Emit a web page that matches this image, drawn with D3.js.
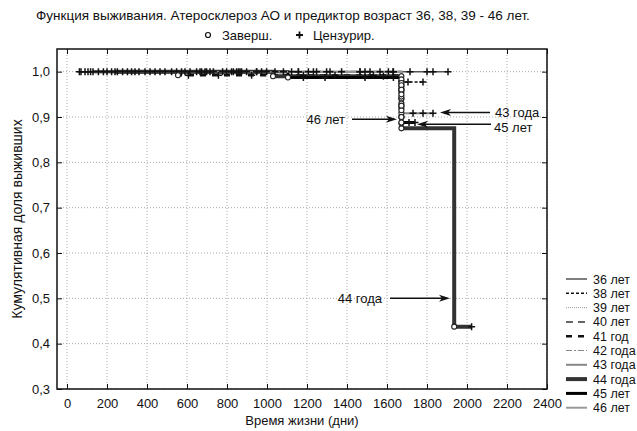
<!DOCTYPE html>
<html>
<head>
<meta charset="utf-8">
<script src="https://cdn.jsdelivr.net/npm/d3@7"></script>
<style>
  body { margin: 0; background: #fff; }
  text { font-family: "Liberation Sans", Arial, sans-serif; fill: #111; }
</style>
</head>
<body>
<div id="chart"></div>
<script>
const w = 637,
    h = 431

// age groups (legend order)
const ages = ['36 лет', '38 лет', '39 лет', '40 лет', '41 год', '42 года', '43 года', '44 года', '45 лет', '46 лет']

// completed observations: [day, cumulative survival after the event]
const events = [
    [],
    [[1672, 0.977]],
    [],
    [[1672, 0.99], [1672, 0.98], [1672, 0.97], [1672, 0.96]],
    [[555, 0.992], [1672, 0.983], [1672, 0.975], [1672, 0.966]],
    [],
    [[1672, 0.97], [1672, 0.955], [1672, 0.94], [1672, 0.925], [1672, 0.908]],
    [[1030, 0.99], [1672, 0.96], [1672, 0.94], [1672, 0.92], [1672, 0.9], [1672, 0.886], [1672, 0.875], [1936, 0.4375]],
    [[1105, 0.987], [1672, 0.96], [1672, 0.945], [1672, 0.93], [1672, 0.915], [1672, 0.9], [1672, 0.888]],
    [[1672, 0.95], [1672, 0.925], [1672, 0.9]]
]

// censored observations: days
const censored = [
    [62, 182, 302, 440, 573, 715, 857, 998, 1157, 1315, 1465, 1715, 1800, 1830, 1905],
    [90, 223, 340, 490, 648, 798, 948, 1082, 1248, 1515, 1705, 1780],
    [118, 252, 360, 523, 665, 823, 973, 1123, 1373, 1565],
    [157, 278, 390, 548, 690, 848, 1040, 1207, 1607],
    [323, 465, 607, 757, 923, 1182, 1340, 1532],
    [70, 200, 415, 590, 732, 873, 1298, 1490],
    [778, 898, 1232, 1465, 1630, 1730, 1780, 1830],
    [240, 615, 948, 1582, 2023],
    [130, 673, 832, 1182, 1290, 1490, 1632, 1710, 1740],
    [105, 698, 865, 1157, 1632]
]

const xTicks = [0, 200, 400, 600, 800, 1000, 1200, 1400, 1600, 1800, 2000, 2200, 2400]
const yTicks = [0.3, 0.4, 0.5, 0.6, 0.7, 0.8, 0.9, 1.0]

// line styles per group
const styles = [
    { stroke: '#555', width: 1.5, dash: null },
    { stroke: '#111', width: 1.5, dash: '3,2' },
    { stroke: '#999', width: 1, dash: '1,1' },
    { stroke: '#666', width: 2, dash: '7,5' },
    { stroke: '#111', width: 2.5, dash: '6,6' },
    { stroke: '#888', width: 1, dash: '6,2,2,2' },
    { stroke: '#888', width: 2, dash: null },
    { stroke: '#333', width: 4, dash: null },
    { stroke: '#000', width: 3, dash: null },
    { stroke: '#999', width: 2, dash: null }
]

const pLeft = 57, pRight = 547, pTop = 49, pBottom = 389

let x = d3.scaleLinear().domain([-50, 2400]).range([pLeft, pRight])
let y = d3.scaleLinear().domain([0.3, 1.05]).range([pBottom, pTop])

let svg = d3.select('#chart')
    .append('svg')
    .attr('width', w)
    .attr('height', h)

// titles
svg.append('text')
    .attr('x', 283).attr('y', 20)
    .attr('text-anchor', 'middle')
    .attr('font-size', 13.5)
    .text('Функция выживания. Атеросклероз АО и предиктор возраст 36, 38, 39 - 46 лет.')

svg.append('circle')
    .attr('cx', 208).attr('cy', 35).attr('r', 2.5)
    .attr('fill', '#fff').attr('stroke', '#111').attr('stroke-width', 1.2)
svg.append('text')
    .attr('x', 222).attr('y', 39.5)
    .attr('font-size', 13)
    .text('Заверш.')
svg.append('path')
    .attr('d', 'M296,35h7M299.5,31.5v7')
    .attr('stroke', '#111').attr('stroke-width', 1.8)
svg.append('text')
    .attr('x', 313).attr('y', 39.5)
    .attr('font-size', 13)
    .text('Цензурир.')

// grid
svg.append('g')
    .selectAll('line')
    .data(xTicks)
    .enter()
    .append('line')
    .attr('x1', d => x(d)).attr('x2', d => x(d))
    .attr('y1', pTop).attr('y2', pBottom)
    .attr('stroke', '#aaa').attr('stroke-dasharray', '1,2')
svg.append('g')
    .selectAll('line')
    .data(yTicks)
    .enter()
    .append('line')
    .attr('x1', pLeft).attr('x2', pRight)
    .attr('y1', d => y(d)).attr('y2', d => y(d))
    .attr('stroke', '#aaa').attr('stroke-dasharray', '1,2')

// axes with inward ticks
let fmt = d => d3.format('.1f')(d).replace('.', ',')
svg.append('g')
    .attr('transform', `translate(0,${pBottom})`)
    .call(d3.axisBottom(x).tickValues(xTicks).tickFormat(d3.format('d')).tickSizeInner(-5).tickSizeOuter(0).tickPadding(10))
    .call(g => g.select('.domain').remove())
svg.append('g')
    .attr('transform', `translate(${pLeft},0)`)
    .call(d3.axisLeft(y).tickValues(yTicks).tickFormat(fmt).tickSizeInner(-5).tickSizeOuter(0).tickPadding(7))
    .call(g => g.select('.domain').remove())
svg.append('g')
    .attr('transform', `translate(0,${pTop})`)
    .call(d3.axisTop(x).tickValues(xTicks).tickSizeInner(-5).tickSizeOuter(0).tickFormat(''))
    .call(g => g.select('.domain').remove())
svg.append('g')
    .attr('transform', `translate(${pRight},0)`)
    .call(d3.axisRight(y).tickValues(yTicks).tickSizeInner(-5).tickSizeOuter(0).tickFormat(''))
    .call(g => g.select('.domain').remove())
svg.selectAll('.tick text')
    .attr('font-size', 13)
    .attr('font-family', '"Liberation Sans", Arial, sans-serif')
    .attr('fill', '#111')
svg.selectAll('.tick line').attr('stroke', '#111')

svg.append('rect')
    .attr('x', pLeft).attr('y', pTop)
    .attr('width', pRight - pLeft).attr('height', pBottom - pTop)
    .attr('fill', 'none').attr('stroke', '#111').attr('stroke-width', 1.5)

svg.append('text')
    .attr('x', 302).attr('y', 425)
    .attr('text-anchor', 'middle')
    .attr('font-size', 13)
    .text('Время жизни (дни)')
svg.append('text')
    .attr('transform', `translate(22,${(pTop + pBottom) / 2}) rotate(-90)`)
    .attr('text-anchor', 'middle')
    .attr('font-size', 14)
    .text('Кумулятивная доля выживших')

// survival curves
let survAt = (ev, day) => {
    let s = 1
    ev.forEach(e => { if (e[0] <= day) s = e[1] })
    return s
}
let step = d3.line()
    .x(d => x(d[0]))
    .y(d => y(d[1]))
    .curve(d3.curveStepAfter)

let plot = svg.append('g')
ages.forEach((a, i) => {
    let ev = events[i], cs = censored[i]
    let days = ev.map(e => e[0]).concat(cs)
    let start = d3.min(days), end = d3.max(days)
    let pts = [[start, 1]].concat(ev)
    pts.push([end, ev.length ? ev[ev.length - 1][1] : 1])
    plot.append('path')
        .attr('d', step(pts))
        .attr('fill', 'none')
        .attr('stroke', styles[i].stroke)
        .attr('stroke-width', styles[i].width)
        .attr('stroke-dasharray', styles[i].dash)
})

ages.forEach((a, i) => {
    plot.append('g')
        .selectAll('path')
        .data(censored[i])
        .enter()
        .append('path')
        .attr('d', d => `M${x(d) - 3.5},${y(survAt(events[i], d))}h7m-3.5,-3.5v7`)
        .attr('stroke', '#111')
        .attr('stroke-width', 1.5)
})
ages.forEach((a, i) => {
    plot.append('g')
        .selectAll('circle')
        .data(events[i])
        .enter()
        .append('circle')
        .attr('cx', d => x(d[0]))
        .attr('cy', d => y(d[1]))
        .attr('r', 2.5)
        .attr('fill', '#fff')
        .attr('stroke', '#222')
        .attr('stroke-width', 1.1)
})

// annotations (data coords)
const notes = [
    { text: '43 года', tx: 2140, ty: 0.91, from: 2115, to: 1865, ay: 0.91, anchor: 'start' },
    { text: '45 лет', tx: 2135, ty: 0.878, from: 2120, to: 1750, ay: 0.884, anchor: 'start' },
    { text: '46 лет', tx: 1390, ty: 0.895, from: 1425, to: 1650, ay: 0.895, anchor: 'end' },
    { text: '44 года', tx: 1575, ty: 0.5, from: 1615, to: 1915, ay: 0.5, anchor: 'end' }
]
let ann = svg.append('g')
notes.forEach(n => {
    let x1 = x(n.from), x2 = x(n.to), yy = y(n.ay)
    let dir = x2 > x1 ? 1 : -1
    ann.append('line')
        .attr('x1', x1).attr('x2', x2 - dir * 8)
        .attr('y1', yy).attr('y2', yy)
        .attr('stroke', '#111').attr('stroke-width', 1.5)
    ann.append('path')
        .attr('d', `M${x2},${yy}L${x2 - dir * 11},${yy - 3.5}L${x2 - dir * 8},${yy}L${x2 - dir * 11},${yy + 3.5}Z`)
        .attr('fill', '#111')
    ann.append('text')
        .attr('x', x(n.tx)).attr('y', y(n.ty) + 5)
        .attr('text-anchor', n.anchor)
        .attr('font-size', 13)
        .text(n.text)
})

// legend
let leg = svg.append('g')
    .selectAll('g')
    .data(ages)
    .enter()
    .append('g')
    .attr('transform', (d, i) => `translate(566,${279 + i * 14.3})`)
leg.append('line')
    .attr('x1', 0).attr('x2', 21)
    .attr('stroke', (d, i) => styles[i].stroke)
    .attr('stroke-width', (d, i) => styles[i].width)
    .attr('stroke-dasharray', (d, i) => styles[i].dash)
leg.append('text')
    .attr('x', 27).attr('y', 4.5)
    .attr('font-size', 12.5)
    .text(d => d)
</script>
</body>
</html>
